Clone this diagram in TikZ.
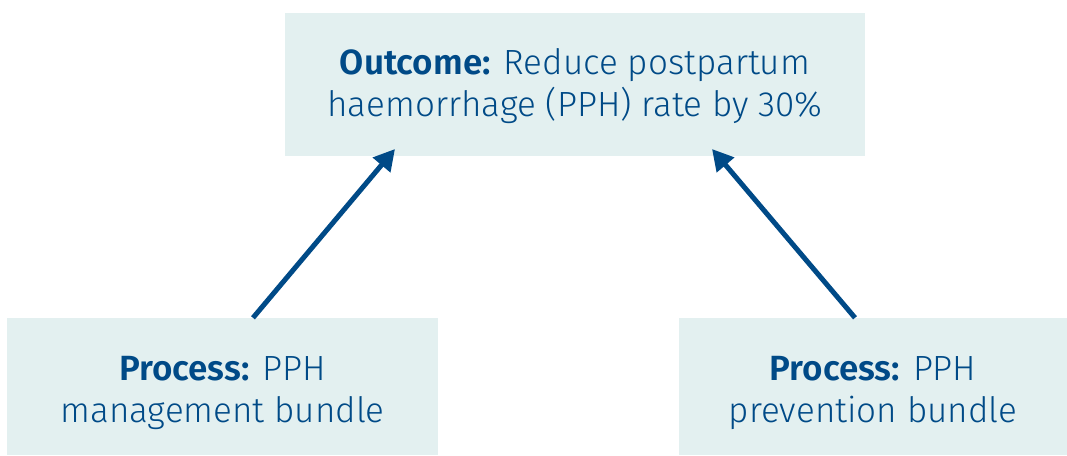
\documentclass[tikz,border=0pt]{standalone}
\usepackage{fontspec}
\setmainfont{Fira Sans Light}[BoldFont={Fira Sans SemiBold}]
\usetikzlibrary{arrows.meta}
\definecolor{boxfill}{HTML}{E3F0F0}
\definecolor{navy}{HTML}{004A87}
\begin{document}
\begin{tikzpicture}[x=1pt,y=-1pt,
  box/.style={fill=boxfill, draw=none, inner sep=0pt},
  lbl/.style={inner sep=0pt, text=navy, align=center,
    font=\fontsize{35}{42}\selectfont},
  arr/.style={draw=navy, line width=5pt, -{Triangle[length=21pt,width=22pt]}}]
\useasboundingbox (0,0) rectangle (1067,455);
\fill[white] (0,0) rectangle (1067,455);
\node[box, minimum width=580pt, minimum height=143pt] (out) at (575,84.5) {};
\node[box, minimum width=431pt, minimum height=137pt] (pl) at (222.5,386.5) {};
\node[box, minimum width=388pt, minimum height=137pt] (pr) at (873,386.5) {};
\node[lbl] (outt) at ([yshift=-1.5pt]out.center)
  {\textbf{Outcome:} Reduce postpartum\\haemorrhage (PPH) rate by 30\%};
\node[lbl] (plt) at ([yshift=-6pt]pl.center)
  {\textbf{Process:} PPH\\management bundle};
\node[lbl] (prt) at ([yshift=-6pt]pr.center)
  {\textbf{Process:} PPH\\prevention bundle};
\coordinate (sl) at (253,318);
\coordinate (tl) at (395,149);
\coordinate (sr) at (855,318);
\coordinate (tr) at (712,149);
\draw[arr] (pl.north -| sl) -- (tl);
\draw[arr] (pr.north -| sr) -- (tr);
\end{tikzpicture}
\end{document}
